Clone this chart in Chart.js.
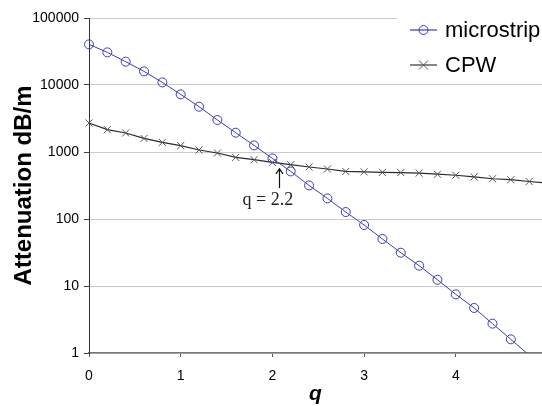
<!DOCTYPE html>
<html>
<head>
<meta charset="utf-8">
<script src="https://cdn.jsdelivr.net/npm/chart.js@4.4.1/dist/chart.umd.min.js"></script>
<style>
    html, body { margin: 0; padding: 0; background: #fff; }
    #wrap { width: 542px; height: 406px; }
</style>
</head>
<body>
<div id="wrap"><canvas id="attChart" width="542" height="406"></canvas></div>
<script>
// q values (x) and attenuation in dB/m
const qValues = [0, 0.2, 0.4, 0.6, 0.8, 1.0, 1.2, 1.4, 1.6, 1.8, 2.0, 2.2, 2.4,
                 2.6, 2.8, 3.0, 3.2, 3.4, 3.6, 3.8, 4.0, 4.2, 4.4, 4.6, 4.8, 5.0];
const microstrip = [40400, 30700, 22300, 15960, 10930, 7240, 4745, 3005, 1941, 1255, 802, 513, 317,
                    203, 127, 81.4, 50.3, 31.4, 20.1, 12.4, 7.5, 4.7, 2.74, 1.6, 0.93, null];
const cpw = [2710, 2153, 1921, 1596, 1391, 1242, 1071, 966, 830, 767, 700, 646, 597,
             557, 513, 505, 497, 493, 485, 466, 450, 425, 399, 386, 363, 342];
const seriesNames = ["microstrip", "CPW"];
const xTicks = [0, 1, 2, 3, 4];
const yTicks = [1, 10, 100, 1000, 10000, 100000];
const noteText = "q = 2.2";

const BLUE = "#3c3cb8";
const SANS = "Arial, 'Liberation Sans', sans-serif";

function toPoints(ys) {
    return qValues.map((q, i) => ({ x: q, y: ys[i] }));
}

// legend box + the "q = 2.2" arrow note
const extras = {
    id: "extras",
    afterDraw(chart) {
        const ctx = chart.ctx;
        const xs = chart.scales.x, ys = chart.scales.y;
        ctx.save();

        // arrow pointing at the crossing
        const ax = Math.round(xs.getPixelForValue(2.07)) + 0.5;
        const aTop = ys.getPixelForValue(560);
        const aBot = ys.getPixelForValue(290);
        ctx.strokeStyle = "#111";
        ctx.lineWidth = 1.2;
        ctx.beginPath();
        ctx.moveTo(ax, aBot);
        ctx.lineTo(ax, aTop);
        ctx.moveTo(ax - 3.5, aTop + 5);
        ctx.lineTo(ax, aTop);
        ctx.lineTo(ax + 3.5, aTop + 5);
        ctx.stroke();

        ctx.fillStyle = "#222";
        ctx.font = "18px 'Times New Roman', 'Liberation Serif', serif";
        ctx.textAlign = "center";
        ctx.textBaseline = "middle";
        ctx.fillText(noteText, xs.getPixelForValue(1.95), ys.getPixelForValue(190));

        // legend
        ctx.fillStyle = "#fff";
        ctx.fillRect(397, 0, 145, 82);
        const rows = [
            { name: seriesNames[0], y: 30, color: BLUE, mark: "circle" },
            { name: seriesNames[1], y: 65, color: "#333", mark: "cross" }
        ];
        rows.forEach(r => {
            ctx.strokeStyle = r.color;
            ctx.lineWidth = 1.2;
            ctx.beginPath();
            ctx.moveTo(410, r.y);
            ctx.lineTo(437, r.y);
            ctx.stroke();
            ctx.lineWidth = 1;
            ctx.beginPath();
            if (r.mark === "circle") {
                ctx.arc(423.5, r.y, 4.5, 0, Math.PI * 2);
            } else {
                ctx.strokeStyle = "#555";
                ctx.moveTo(419, r.y - 4.5); ctx.lineTo(428, r.y + 4.5);
                ctx.moveTo(419, r.y + 4.5); ctx.lineTo(428, r.y - 4.5);
            }
            ctx.stroke();
            ctx.fillStyle = "#000";
            ctx.font = "22px " + SANS;
            ctx.textAlign = "left";
            ctx.textBaseline = "middle";
            ctx.fillText(r.name, 445, r.y + 1);
        });
        ctx.restore();
    }
};

new Chart(document.getElementById("attChart"), {
    type: "line",
    data: {
        datasets: [{
            label: seriesNames[0],
            data: toPoints(microstrip),
            borderColor: BLUE,
            borderWidth: 1,
            pointStyle: "circle",
            pointRadius: c => (c.raw && c.raw.y < 1 ? 0 : 4.5),
            pointBorderColor: BLUE,
            pointBackgroundColor: "rgba(0,0,0,0)",
            pointBorderWidth: 1,
            clip: { left: 8, top: 0, right: 0, bottom: 0 }
        }, {
            label: seriesNames[1],
            data: toPoints(cpw),
            borderColor: "#2a2a2a",
            borderWidth: 1.2,
            pointStyle: "crossRot",
            pointRadius: 5,
            pointBorderColor: "#555",
            pointBorderWidth: 1,
            clip: { left: 8, top: 0, right: 0, bottom: 0 }
        }]
    },
    options: {
        responsive: false,
        animation: false,
        devicePixelRatio: 1,
        layout: { autoPadding: false, padding: { top: 18, right: 0, bottom: 0, left: 0 } },
        plugins: {
            legend: { display: false },
            tooltip: { enabled: false }
        },
        scales: {
            x: {
                type: "linear",
                min: 0,
                max: 4.94,
                afterFit: s => { s.height = 53; s.paddingLeft = 0; s.paddingRight = 0; },
                afterBuildTicks: s => { s.ticks = xTicks.map(v => ({ value: v })); },
                grid: { drawOnChartArea: false, drawTicks: true, tickLength: 4, tickColor: "#555" },
                border: { color: "#777", width: 1.5 },
                ticks: { color: "#000", padding: 11, font: { family: SANS, size: 14 } },
                title: {
                    display: true,
                    text: "q",
                    color: "#000",
                    padding: { top: 0, bottom: 1 },
                    font: { family: SANS, size: 21, weight: "bold", style: "italic", lineHeight: 1 }
                }
            },
            y: {
                type: "logarithmic",
                min: 1,
                max: 100000,
                afterFit: s => { s.width = 89; },
                afterBuildTicks: s => { s.ticks = yTicks.map(v => ({ value: v })); },
                grid: { color: "#cacaca", tickColor: "#444", tickLength: 5 },
                border: { color: "#333", width: 1 },
                ticks: {
                    color: "#000",
                    padding: 5,
                    font: { family: SANS, size: 14 },
                    callback: v => String(v)
                },
                title: {
                    display: true,
                    text: "Attenuation dB/m",
                    color: "#000",
                    padding: { top: 10, bottom: 0 },
                    font: { family: SANS, size: 24, weight: "bold" }
                }
            }
        }
    },
    plugins: [extras]
});
</script>
</body>
</html>
